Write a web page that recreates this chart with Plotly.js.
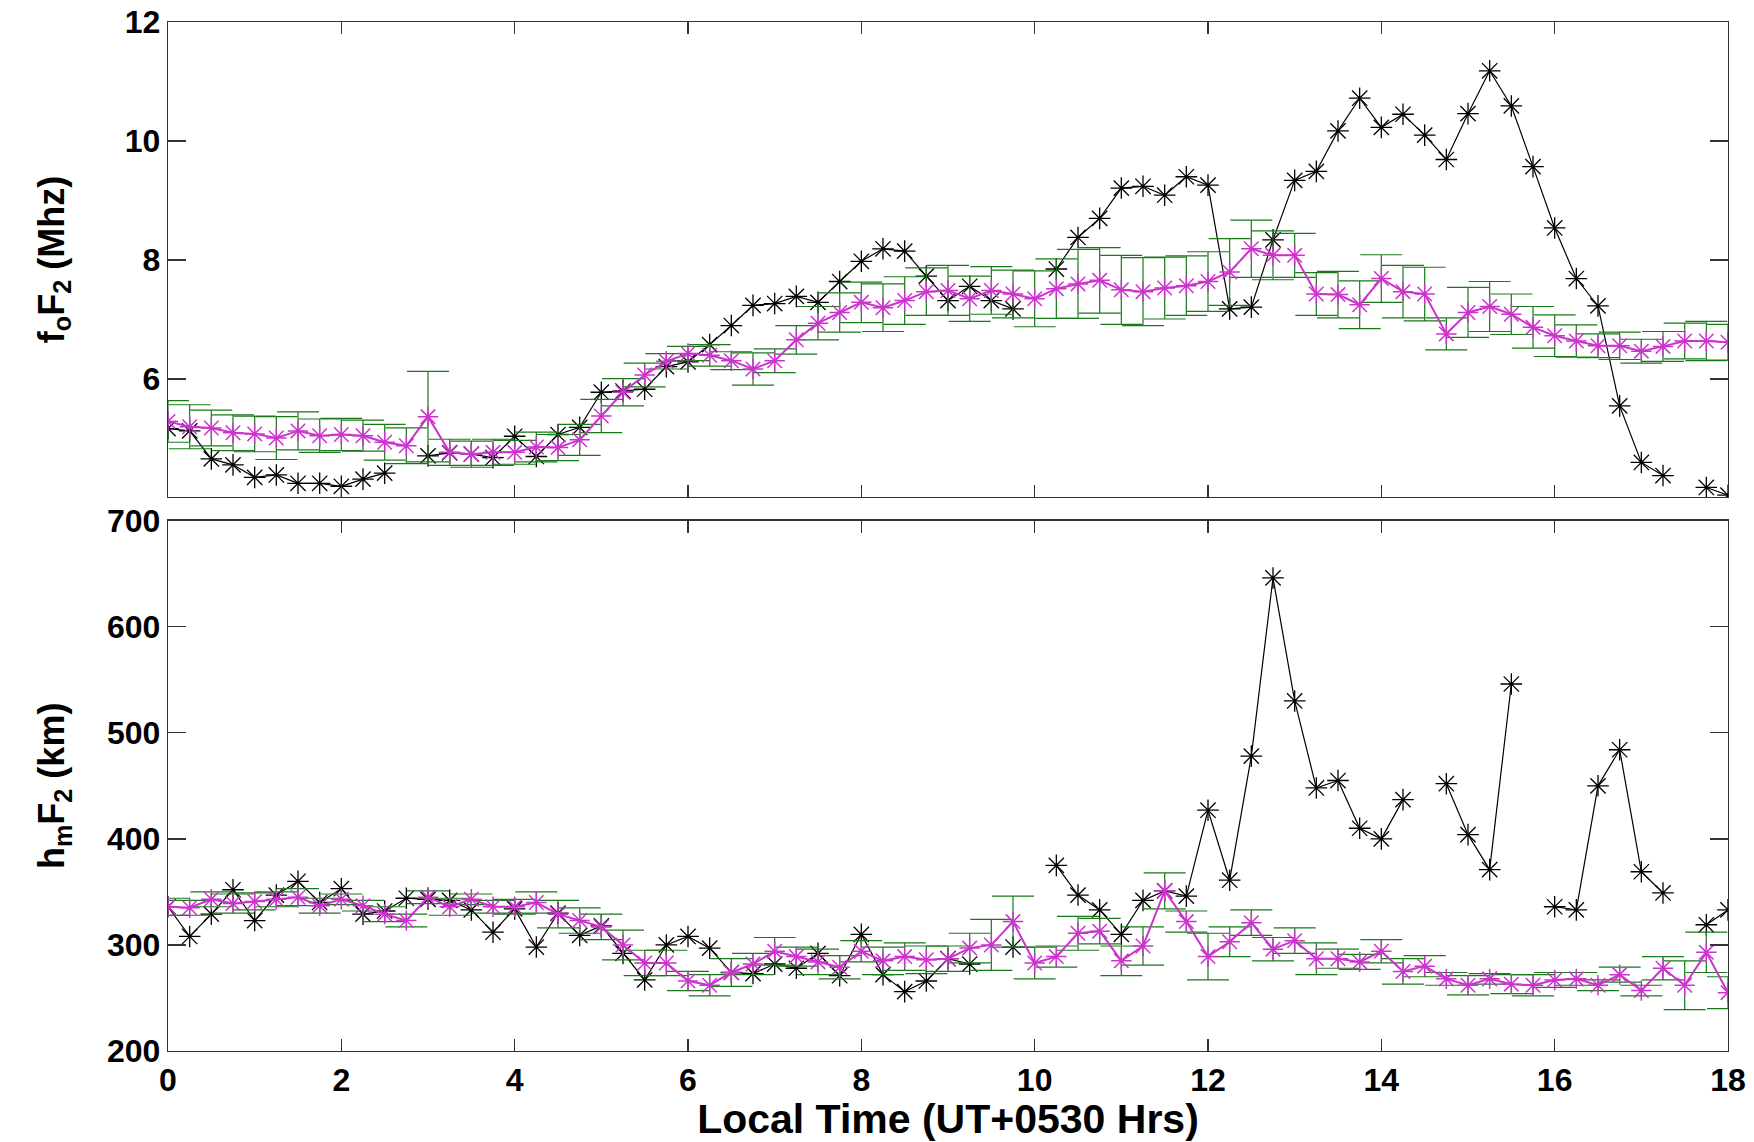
<!DOCTYPE html>
<html>
<head>
<meta charset="utf-8">
<script src="https://cdn.plot.ly/plotly-3.0.1.min.js"></script>
<style>html,body{margin:0;padding:0;background:#fff;}#chart{width:1754px;height:1142px;}</style>
</head>
<body>
<div id="chart"></div>
<script>
// Local time (hours), 15-minute steps
const localTime = [0,0.25,0.5,0.75,1,1.25,1.5,1.75,2,2.25,2.5,2.75,3,3.25,3.5,3.75,4,4.25,4.5,4.75,5,5.25,5.5,5.75,6,6.25,6.5,6.75,7,7.25,7.5,7.75,8,8.25,8.5,8.75,9,9.25,9.5,9.75,10,10.25,10.5,10.75,11,11.25,11.5,11.75,12,12.25,12.5,12.75,13,13.25,13.5,13.75,14,14.25,14.5,14.75,15,15.25,15.5,15.75,16,16.25,16.5,16.75,17,17.25,17.5,17.75,18];

// foF2 (MHz) – observed day (black)
const foF2Day = [5.17,5.13,4.66,4.56,4.35,4.39,4.25,4.25,4.20,4.32,4.42,null,4.71,4.76,4.74,4.68,5.04,4.70,5.07,5.19,5.78,5.80,5.83,6.21,6.29,6.58,6.90,7.24,7.27,7.39,7.29,7.64,7.98,8.19,8.15,7.73,7.32,7.56,7.32,7.18,null,7.85,8.38,8.70,9.21,9.24,9.09,9.40,9.26,7.18,7.21,8.34,9.34,9.49,10.17,10.72,10.23,10.45,10.10,9.69,10.46,11.18,10.59,9.57,8.54,7.69,7.23,5.55,4.60,4.38,null,4.18,4.05];
// foF2 (MHz) – quiet-day mean (magenta) and its spread (green)
const foF2Mean = [5.29,5.20,5.18,5.10,5.08,5.01,5.13,5.05,5.07,5.05,4.94,4.88,5.37,4.77,4.74,4.77,4.77,4.86,4.85,4.98,5.38,5.78,6.07,6.30,6.43,6.40,6.31,6.17,6.31,6.66,6.94,7.12,7.29,7.20,7.32,7.47,7.49,7.35,7.49,7.43,7.35,7.52,7.60,7.66,7.50,7.47,7.53,7.57,7.64,7.80,8.19,8.08,8.08,7.43,7.42,7.25,7.69,7.47,7.43,6.76,7.12,7.22,7.09,6.87,6.73,6.64,6.56,6.56,6.47,6.55,6.64,6.64,6.62];
const foF2Err = [0.35,0.37,0.30,0.30,0.30,0.36,0.32,0.28,0.27,0.26,0.30,0.30,0.76,0.22,0.22,0.22,0.20,0.25,0.22,0.26,0.28,0.23,0.20,0.13,0.12,0.18,0.15,0.27,0.20,0.24,0.28,0.33,0.34,0.40,0.40,0.40,0.42,0.38,0.40,0.40,0.47,0.50,0.58,0.55,0.58,0.57,0.52,0.50,0.50,0.56,0.48,0.41,0.37,0.36,0.39,0.40,0.40,0.44,0.45,0.27,0.42,0.42,0.34,0.35,0.35,0.27,0.20,0.23,0.20,0.25,0.30,0.33,0.30];

// hmF2 (km) – observed day (black)
const hmF2Day = [336,308,329,352,323,347,360,340,353,329,332,344,343,342,333,312,334,298,330,309,318,292,267,300,308,297,274,273,282,278,292,271,310,272,256,266,287,282,null,298,null,375,347,333,310,342,351,346,427,361,478,646,530,448,455,410,400,437,null,452,404,371,546,null,336,333,450,484,369,349,null,319,333];
// hmF2 (km) – quiet-day mean (magenta) and its spread (green)
const hmF2Mean = [336,335,343,339,341,343,345,337,343,337,329,323,345,336,343,336,336,340,329,323,317,300,283,283,266,262,274,282,294,289,284,279,294,285,289,286,287,297,300,322,283,289,311,313,285,299,351,322,289,303,321,296,304,287,287,284,294,275,280,268,262,268,263,262,267,268,262,272,257,278,262,293,255];
const hmF2Err = [8,7,7,9,8,7,8,7,5,5,7,6,6,8,5,6,7,10,13,12,12,14,12,12,9,10,13,10,13,9,12,11,10,13,13,13,12,14,24,24,15,10,16,12,14,18,17,10,22,14,12,11,12,15,9,7,11,12,10,6,9,5,9,10,7,6,5,7,5,11,23,19,15];

// Axis labels / ticks
const xTitle = 'Local Time (UT+0530 Hrs)';
const yTitleTop = 'f<sub>o</sub>F<sub>2</sub> (Mhz)';
const yTitleBottom = 'h<sub>m</sub>F<sub>2</sub> (km)';
const xTicks = [0,2,4,6,8,10,12,14,16,18];
const yTicksTop = [6,8,10,12];
const yTicksBottom = [200,300,400,500,600,700];

const BLACK = '#000000';
const MAGENTA = '#cc33cc';
const GREEN = '#1a7a1a';
const FAMILY = 'Liberation Sans, Arial, Helvetica, sans-serif';
const tickFont = {family: FAMILY, size: 32, color: '#000', weight: 'bold'};
const xTitleFont = {family: FAMILY, size: 41, color: '#000', weight: 'bold'};
const yTitleFont = {family: FAMILY, size: 36, color: '#000', weight: 'bold'};

function obsTrace(y, xa, ya) {
  return {x: localTime, y: y, xaxis: xa, yaxis: ya, type: 'scatter', mode: 'lines+markers',
    line: {color: BLACK, width: 1.2},
    marker: {symbol: 'asterisk-open', size: 18, color: BLACK, line: {color: BLACK, width: 1.3}},
    connectgaps: false, showlegend: false, hoverinfo: 'x+y'};
}
function meanTrace(y, err, xa, ya) {
  return {x: localTime, y: y, xaxis: xa, yaxis: ya, type: 'scatter', mode: 'lines+markers',
    line: {color: MAGENTA, width: 2},
    marker: {symbol: 'asterisk-open', size: 17, color: MAGENTA, line: {color: MAGENTA, width: 1.5}},
    error_y: {type: 'data', array: err, visible: true, color: GREEN, thickness: 1.2, width: 21},
    showlegend: false, hoverinfo: 'x+y'};
}

const data = [
  obsTrace(foF2Day, 'x2', 'y2'),
  meanTrace(foF2Mean, foF2Err, 'x2', 'y2'),
  obsTrace(hmF2Day, 'x', 'y'),
  meanTrace(hmF2Mean, hmF2Err, 'x', 'y')
];

const axisCommon = {
  showline: true, linecolor: '#333333', linewidth: 1.3, mirror: 'ticks',
  ticks: 'inside', tickcolor: '#333333', tickwidth: 1.3,
  showgrid: false, zeroline: false, tickfont: tickFont
};

const layout = {
  width: 1754, height: 1142,
  paper_bgcolor: '#ffffff', plot_bgcolor: '#ffffff',
  margin: {l: 168, r: 26, t: 22, b: 91},
  showlegend: false,
  xaxis: Object.assign({}, axisCommon, {
    domain: [0, 1], anchor: 'y', range: [0, 18], tickvals: xTicks, ticklen: 12,
    title: {text: xTitle, font: xTitleFont, standoff: 3}
  }),
  yaxis: Object.assign({}, axisCommon, {
    domain: [0, 0.5154], anchor: 'x', range: [200, 700], tickvals: yTicksBottom, ticklen: 18,
    title: {text: yTitleBottom, font: yTitleFont, standoff: 31}
  }),
  xaxis2: Object.assign({}, axisCommon, {
    domain: [0, 1], anchor: 'y2', range: [0, 18], tickvals: xTicks, ticklen: 12,
    showticklabels: false, matches: 'x'
  }),
  yaxis2: Object.assign({}, axisCommon, {
    domain: [0.5384, 1], anchor: 'x2', range: [4.02, 12], tickvals: yTicksTop, ticklen: 18,
    title: {text: yTitleTop, font: yTitleFont, standoff: 49}
  })
};

Plotly.newPlot('chart', data, layout, {displayModeBar: false, staticPlot: true});
</script>
</body>
</html>
